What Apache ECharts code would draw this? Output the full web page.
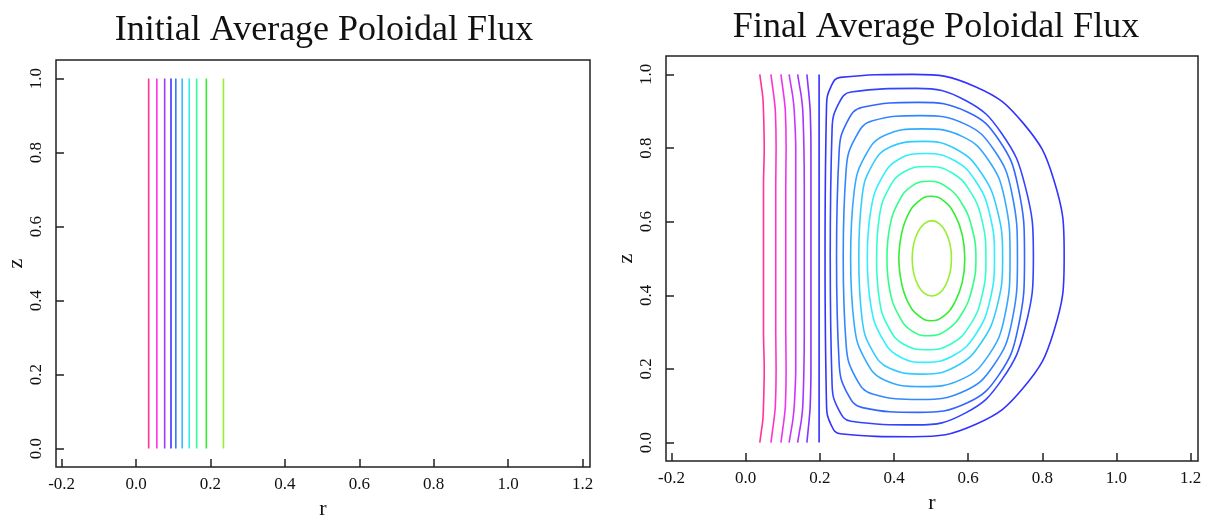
<!DOCTYPE html>
<html><head><meta charset="utf-8">
<script src="https://cdn.jsdelivr.net/npm/echarts@6/dist/echarts.min.js"></script>
<style>html,body{margin:0;padding:0;background:#fff}#c{width:1210px;height:517px}</style>
</head><body><div id="c"></div>
<script>
// ---- data ----
const titles = ['Initial Average Poloidal Flux', 'Final Average Poloidal Flux'];
const xTicks = [-0.2, 0.0, 0.2, 0.4, 0.6, 0.8, 1.0, 1.2];
const yTicks = [0.0, 0.2, 0.4, 0.6, 0.8, 1.0];

// Initial: vertical flux surfaces r = const, z from 0 to 1
const initialR = [0.034, 0.056, 0.077, 0.094, 0.107, 0.124, 0.143, 0.163, 0.189, 0.235];
const initialZ = [0, 1];

// Final: open field lines left of r=0.2 (r at each z level)
const openZ = [0, 0.03, 0.06, 0.1, 0.2, 0.3, 0.5, 0.7, 0.8, 0.9, 0.94, 0.97, 1.0];
const open1 = [0.038, 0.042, 0.046, 0.048, 0.050, 0.048, 0.048, 0.048, 0.050, 0.048, 0.046, 0.042, 0.038];
const open2 = [0.068, 0.072, 0.076, 0.080, 0.082, 0.081, 0.081, 0.081, 0.082, 0.080, 0.076, 0.072, 0.068];
const open3 = [0.095, 0.099, 0.103, 0.107, 0.109, 0.108, 0.108, 0.108, 0.109, 0.107, 0.103, 0.099, 0.095];
const open4 = [0.117, 0.122, 0.127, 0.131, 0.135, 0.135, 0.135, 0.135, 0.135, 0.131, 0.127, 0.122, 0.117];
const open5 = [0.140, 0.145, 0.150, 0.154, 0.157, 0.158, 0.158, 0.158, 0.157, 0.154, 0.150, 0.145, 0.140];
const open6 = [0.165, 0.168, 0.171, 0.174, 0.176, 0.176, 0.176, 0.176, 0.176, 0.174, 0.171, 0.168, 0.165];
const open7 = [0.198, 0.198, 0.198, 0.198, 0.198, 0.198, 0.198, 0.198, 0.198, 0.198, 0.198, 0.198, 0.198];

// Final: closed flux surfaces, outermost first, [r, z]
const closed1 = [[0.214,0.508],[0.218,0.914],[0.230,0.967],[0.255,0.992],[0.45,1.0],[0.621,0.966],[0.749,0.867],[0.831,0.714],[0.859,0.508],[0.831,0.302],[0.749,0.149],[0.621,0.050],[0.45,0.016],[0.255,0.024],[0.230,0.049],[0.218,0.102],[0.214,0.508]];
const closed2 = [[0.228,0.505],[0.233,0.852],[0.250,0.919],[0.284,0.952],[0.46,0.962],[0.592,0.930],[0.691,0.839],[0.754,0.696],[0.776,0.505],[0.754,0.314],[0.691,0.171],[0.592,0.080],[0.46,0.048],[0.284,0.058],[0.250,0.091],[0.233,0.158],[0.228,0.505]];
const closed3 = [[0.245,0.503],[0.252,0.790],[0.273,0.870],[0.315,0.911],[0.465,0.924],[0.598,0.898],[0.683,0.822],[0.734,0.698],[0.752,0.503],[0.734,0.308],[0.683,0.184],[0.598,0.108],[0.465,0.082],[0.315,0.095],[0.273,0.136],[0.252,0.216],[0.245,0.503]];
const closed4 = [[0.263,0.503],[0.271,0.742],[0.296,0.828],[0.342,0.874],[0.47,0.888],[0.592,0.865],[0.669,0.796],[0.717,0.682],[0.733,0.503],[0.717,0.324],[0.669,0.210],[0.592,0.141],[0.47,0.117],[0.342,0.132],[0.296,0.178],[0.271,0.264],[0.263,0.503]];
const closed5 = [[0.283,0.502],[0.293,0.686],[0.323,0.780],[0.374,0.834],[0.475,0.852],[0.585,0.831],[0.655,0.767],[0.698,0.664],[0.713,0.502],[0.698,0.340],[0.655,0.237],[0.585,0.173],[0.475,0.152],[0.374,0.170],[0.323,0.224],[0.293,0.318],[0.283,0.502]];
const closed6 = [[0.305,0.502],[0.314,0.669],[0.341,0.753],[0.388,0.802],[0.48,0.818],[0.569,0.796],[0.635,0.733],[0.678,0.634],[0.693,0.502],[0.678,0.370],[0.635,0.271],[0.569,0.208],[0.48,0.186],[0.388,0.202],[0.341,0.251],[0.314,0.335],[0.305,0.502]];
const closed7 = [[0.328,0.502],[0.338,0.634],[0.366,0.717],[0.412,0.769],[0.485,0.785],[0.563,0.766],[0.621,0.709],[0.658,0.621],[0.671,0.502],[0.658,0.383],[0.621,0.295],[0.563,0.238],[0.485,0.218],[0.412,0.235],[0.366,0.287],[0.338,0.370],[0.328,0.502]];
const closed8 = [[0.353,0.501],[0.361,0.617],[0.386,0.690],[0.426,0.735],[0.49,0.750],[0.556,0.733],[0.605,0.683],[0.637,0.605],[0.648,0.501],[0.637,0.397],[0.605,0.319],[0.556,0.269],[0.49,0.252],[0.426,0.267],[0.386,0.312],[0.361,0.385],[0.353,0.501]];
const closed9 = [[0.381,0.5],[0.389,0.588],[0.412,0.653],[0.447,0.696],[0.495,0.71],[0.543,0.694],[0.584,0.648],[0.611,0.580],[0.621,0.5],[0.611,0.420],[0.584,0.352],[0.543,0.306],[0.495,0.29],[0.447,0.304],[0.412,0.347],[0.389,0.412],[0.381,0.5]];
const closed10 = [[0.413,0.5],[0.420,0.565],[0.438,0.619],[0.467,0.656],[0.5,0.669],[0.535,0.656],[0.564,0.619],[0.584,0.565],[0.591,0.5],[0.584,0.435],[0.564,0.381],[0.535,0.344],[0.5,0.331],[0.467,0.344],[0.438,0.381],[0.420,0.435],[0.413,0.5]];
const closed11 = [[0.449,0.5],[0.453,0.539],[0.465,0.573],[0.482,0.595],[0.502,0.603],[0.522,0.595],[0.539,0.573],[0.551,0.539],[0.555,0.5],[0.551,0.461],[0.539,0.427],[0.522,0.405],[0.502,0.398],[0.482,0.405],[0.465,0.427],[0.453,0.461],[0.449,0.5]];

// ---- styles ----
const initialColors = ['#ff3399','#ff33ee','#aa33ff','#4433ff','#3377ff','#33bbff','#33eeee','#33ff99','#33ee33','#99ee33'];
const openColors = ['#ff3399','#ff33cc','#ee33ee','#cc33ff','#aa33ff','#8833ff','#3030ff'];
const closedColors = ['#3333ff','#3344ff','#3366ff','#3388ff','#33aaff','#33ccff','#33eeff','#33ffcc','#33ff88','#33ee33','#99ee33'];

const FONT = 'Liberation Serif';
const openLines = [open1, open2, open3, open4, open5, open6, open7];
const closedLines = [closed1, closed2, closed3, closed4, closed5, closed6, closed7, closed8, closed9, closed10, closed11];

const grids = [
  {left: 56, top: 60, width: 534, height: 407},
  {left: 666, top: 56, width: 532, height: 405}
];

function xAxis(i) {
  return {
    type: 'value', gridIndex: i, min: -0.215, max: 1.22,
    name: 'r', nameLocation: 'middle', nameGap: 29,
    nameTextStyle: {fontFamily: FONT, fontSize: 22, color: '#111'},
    axisLine: {show: false, onZero: false},
    axisTick: {show: true, inside: true, length: 8, customValues: xTicks, lineStyle: {color: '#222', width: 1.5}},
    axisLabel: {customValues: xTicks, margin: 9, fontFamily: FONT, fontSize: 17, color: '#111',
      formatter: v => v.toFixed(1)},
    splitLine: {show: false}
  };
}
function yAxis(i) {
  return {
    type: 'value', gridIndex: i, min: -0.05, max: 1.05,
    name: 'z', nameLocation: 'middle', nameGap: 29, nameRotate: 90,
    nameTextStyle: {fontFamily: FONT, fontSize: 22, color: '#111'},
    axisLine: {show: false, onZero: false},
    axisTick: {show: true, inside: true, length: 8, customValues: yTicks, lineStyle: {color: '#222', width: 1.5}},
    axisLabel: {customValues: yTicks, margin: 11, rotate: 90, fontFamily: FONT, fontSize: 17, color: '#111',
      formatter: v => v.toFixed(1)},
    splitLine: {show: false}
  };
}

const series = [];
initialR.forEach((r, k) => {
  series.push({type: 'line', xAxisIndex: 0, yAxisIndex: 0, showSymbol: false, silent: true,
    data: initialZ.map(z => [r, z]),
    lineStyle: {color: initialColors[k], width: 1.6}});
});
openLines.forEach((arr, k) => {
  series.push({type: 'line', xAxisIndex: 1, yAxisIndex: 1, showSymbol: false, silent: true,
    data: arr.map((r, j) => [r, openZ[j]]), smooth: 0.3,
    lineStyle: {color: openColors[k], width: 1.6}});
});
closedLines.forEach((arr, k) => {
  series.push({type: 'line', xAxisIndex: 1, yAxisIndex: 1, showSymbol: false, silent: true,
    data: arr, smooth: 0.45,
    lineStyle: {color: closedColors[k], width: 1.6}});
});

const chart = echarts.init(document.getElementById('c'), null, {renderer: 'canvas'});
chart.setOption({
  animation: false,
  backgroundColor: '#fff',
  title: [
    {text: titles[0], left: 319, top: 8, textAlign: 'center', textStyle: {fontFamily: FONT, fontSize: 36, fontWeight: 'normal', color: '#111'}},
    {text: titles[1], left: 931, top: 5, textAlign: 'center', textStyle: {fontFamily: FONT, fontSize: 36, fontWeight: 'normal', color: '#111'}}
  ],
  grid: grids.map(g => Object.assign({show: true, borderColor: '#222', borderWidth: 1.5, backgroundColor: 'transparent',
    containLabel: false, outerBoundsMode: 'none'}, g)),
  xAxis: [xAxis(0), xAxis(1)],
  yAxis: [yAxis(0), yAxis(1)],
  series: series
});
</script>
</body></html>
